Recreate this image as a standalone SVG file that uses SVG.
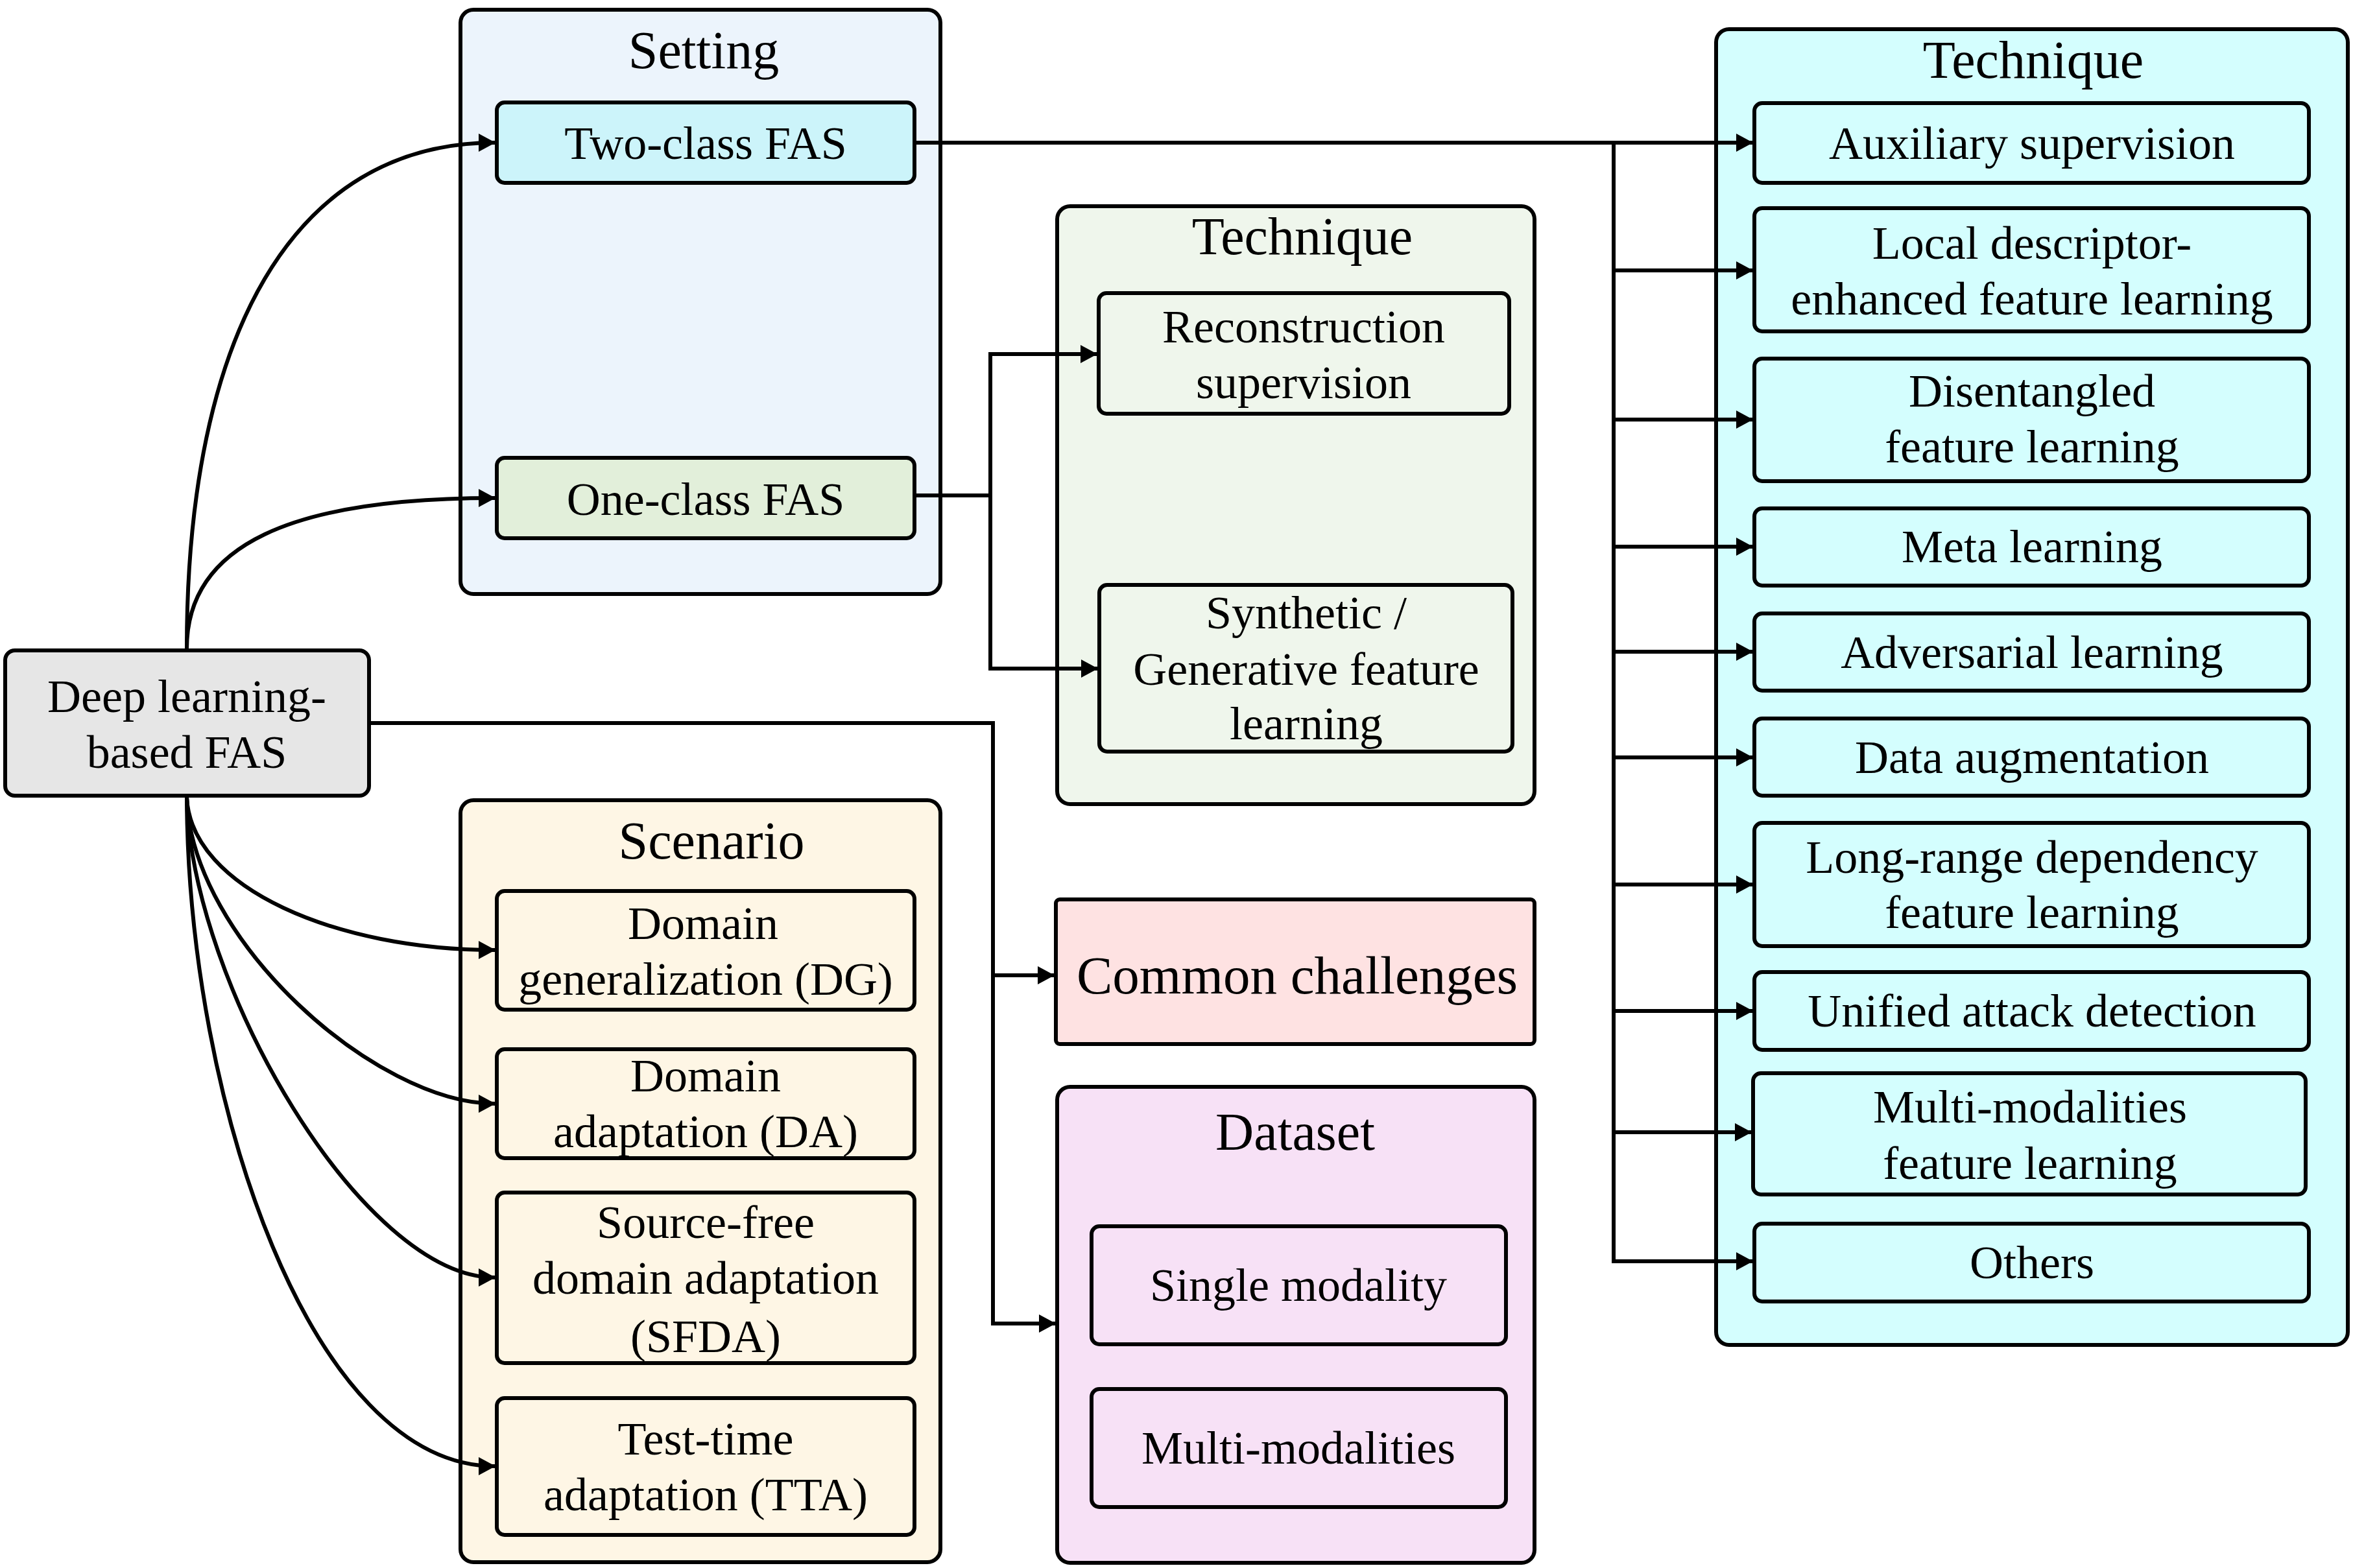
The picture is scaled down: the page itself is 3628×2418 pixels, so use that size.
<svg xmlns="http://www.w3.org/2000/svg" width="3628" height="2418" viewBox="0 0 3628 2418">
<style>
  text { font-family: "Liberation Serif", "Times New Roman", serif; fill: #000; text-anchor: middle; }
  .t { font-size: 72px; }
  .h { font-size: 82px; }
  .box { stroke: #000; stroke-width: 6; }
  .con { fill: none; stroke: #000; stroke-width: 6; }
</style>
<defs>
  <marker id="arr" markerUnits="userSpaceOnUse" markerWidth="26" markerHeight="28" refX="25" refY="14" orient="auto">
    <path d="M0,0 L26,14 L0,28 z" fill="#000"/>
  </marker>
</defs>
<rect width="3628" height="2418" fill="#fff"/>

<!-- containers -->
<g id="setting">
  <rect class="box" x="710" y="15" width="740" height="901" rx="20" fill="#ECF4FC"/>
  <text class="h" x="1085" y="105">Setting</text>
</g>
<g id="technique-oneclass">
  <rect class="box" x="1630" y="318" width="736" height="922" rx="20" fill="#EFF6EC"/>
  <text class="h" x="2008" y="392">Technique</text>
</g>
<g id="technique-main">
  <rect class="box" x="2646" y="45" width="974" height="2029" rx="20" fill="#D4FEFE"/>
  <text class="h" x="3135" y="120">Technique</text>
</g>
<g id="scenario">
  <rect class="box" x="710" y="1234" width="740" height="1175" rx="20" fill="#FEF6E5"/>
  <text class="h" x="1097" y="1324">Scenario</text>
</g>
<g id="dataset">
  <rect class="box" x="1630" y="1676" width="736" height="734" rx="20" fill="#F7E1F6"/>
  <text class="h" x="1997" y="1773">Dataset</text>
</g>

<!-- connectors -->
<g id="connectors">
  <path class="con" d="M288,1000 C288,520 450,220 763,220" marker-end="url(#arr)"/>
  <path class="con" d="M288,1000 C288,840 450,768 763,768" marker-end="url(#arr)"/>
  <path class="con" d="M288,1230 C295,1370 520,1465 763,1465" marker-end="url(#arr)"/>
  <path class="con" d="M288,1230 C295,1450 580,1702 763,1702" marker-end="url(#arr)"/>
  <path class="con" d="M288,1230 C295,1520 560,1970 763,1970" marker-end="url(#arr)"/>
  <path class="con" d="M288,1230 C290,1700 480,2261 763,2261" marker-end="url(#arr)"/>
  <!-- deep learning to challenges/dataset -->
  <path class="con" d="M572,1115 H1531 V2041 H1627" marker-end="url(#arr)"/>
  <path class="con" d="M1531,1504 H1625" marker-end="url(#arr)"/>
  <!-- one-class to techniques -->
  <path class="con" d="M1413,764 H1527 V546 H1691" marker-end="url(#arr)"/>
  <path class="con" d="M1527,764 V1031 H1692" marker-end="url(#arr)"/>
  <!-- two-class to techniques -->
  <path class="con" d="M1413,220 H2702" marker-end="url(#arr)"/>
  <path class="con" d="M2488,220 V1945 H2702" marker-end="url(#arr)"/>
  <path class="con" d="M2488,417 H2702" marker-end="url(#arr)"/>
  <path class="con" d="M2488,647 H2702" marker-end="url(#arr)"/>
  <path class="con" d="M2488,843 H2702" marker-end="url(#arr)"/>
  <path class="con" d="M2488,1005 H2702" marker-end="url(#arr)"/>
  <path class="con" d="M2488,1168 H2702" marker-end="url(#arr)"/>
  <path class="con" d="M2488,1364 H2702" marker-end="url(#arr)"/>
  <path class="con" d="M2488,1559 H2702" marker-end="url(#arr)"/>
  <path class="con" d="M2488,1746 H2700" marker-end="url(#arr)"/>
</g>

<!-- nodes -->
<g id="deep-learning">
  <rect class="box" x="8" y="1003" width="561" height="224" rx="15" fill="#E6E6E6"/>
  <text class="t" x="288" y="1098">Deep learning-</text>
  <text class="t" x="288" y="1184">based FAS</text>
</g>
<g id="two-class">
  <rect class="box" x="766" y="158" width="644" height="124" rx="12" fill="#CCF4FA"/>
  <text class="t" x="1088" y="245">Two-class FAS</text>
</g>
<g id="one-class">
  <rect class="box" x="766" y="706" width="644" height="124" rx="12" fill="#E2EFDA"/>
  <text class="t" x="1088" y="794">One-class FAS</text>
</g>
<g id="reconstruction">
  <rect class="box" x="1694" y="452" width="633" height="186" rx="12" fill="#EFF6EC"/>
  <text class="t" x="2010" y="528">Reconstruction</text>
  <text class="t" x="2010" y="614">supervision</text>
</g>
<g id="synthetic">
  <rect class="box" x="1695" y="902" width="637" height="257" rx="12" fill="#EFF6EC"/>
  <text class="t" x="2014" y="969">Synthetic /</text>
  <text class="t" x="2014" y="1056">Generative feature</text>
  <text class="t" x="2014" y="1140">learning</text>
</g>
<g id="common-challenges">
  <rect class="box" x="1628" y="1387" width="738" height="223" rx="6" fill="#FEE2E2"/>
  <text x="2000" y="1532" font-size="83">Common challenges</text>
</g>
<g id="single-modality">
  <rect class="box" x="1683" y="1891" width="639" height="182" rx="12" fill="#F7E1F6"/>
  <text class="t" x="2002" y="2006">Single modality</text>
</g>
<g id="multi-modalities">
  <rect class="box" x="1683" y="2142" width="639" height="182" rx="12" fill="#F7E1F6"/>
  <text class="t" x="2002" y="2257">Multi-modalities</text>
</g>
<g id="dg">
  <rect class="box" x="766" y="1374" width="644" height="183" rx="12" fill="#FEF6E5"/>
  <text class="t" x="1084" y="1448">Domain</text>
  <text class="t" x="1088" y="1534">generalization (DG)</text>
</g>
<g id="da">
  <rect class="box" x="766" y="1618" width="644" height="168" rx="12" fill="#FEF6E5"/>
  <text class="t" x="1088" y="1683">Domain</text>
  <text class="t" x="1088" y="1769">adaptation (DA)</text>
</g>
<g id="sfda">
  <rect class="box" x="766" y="1839" width="644" height="263" rx="12" fill="#FEF6E5"/>
  <text class="t" x="1088" y="1909">Source-free</text>
  <text class="t" x="1088" y="1995">domain adaptation</text>
  <text class="t" x="1088" y="2085">(SFDA)</text>
</g>
<g id="tta">
  <rect class="box" x="766" y="2156" width="644" height="211" rx="12" fill="#FEF6E5"/>
  <text class="t" x="1088" y="2243">Test-time</text>
  <text class="t" x="1088" y="2329">adaptation (TTA)</text>
</g>
<g id="auxiliary">
  <rect class="box" x="2705" y="159" width="855" height="123" rx="12" fill="#D4FEFE"/>
  <text class="t" x="3133" y="245">Auxiliary supervision</text>
</g>
<g id="local-descriptor">
  <rect class="box" x="2705" y="321" width="855" height="190" rx="12" fill="#D4FEFE"/>
  <text class="t" x="3133" y="399">Local descriptor-</text>
  <text class="t" x="3133" y="485">enhanced feature learning</text>
</g>
<g id="disentangled">
  <rect class="box" x="2705" y="553" width="855" height="189" rx="12" fill="#D4FEFE"/>
  <text class="t" x="3133" y="627">Disentangled</text>
  <text class="t" x="3133" y="713">feature learning</text>
</g>
<g id="meta">
  <rect class="box" x="2705" y="784" width="855" height="119" rx="12" fill="#D4FEFE"/>
  <text class="t" x="3133" y="867">Meta learning</text>
</g>
<g id="adversarial">
  <rect class="box" x="2705" y="946" width="855" height="119" rx="12" fill="#D4FEFE"/>
  <text class="t" x="3133" y="1030">Adversarial learning</text>
</g>
<g id="data-augmentation">
  <rect class="box" x="2705" y="1108" width="855" height="119" rx="12" fill="#D4FEFE"/>
  <text class="t" x="3133" y="1192">Data augmentation</text>
</g>
<g id="long-range">
  <rect class="box" x="2705" y="1269" width="855" height="190" rx="12" fill="#D4FEFE"/>
  <text class="t" x="3133" y="1346">Long-range dependency</text>
  <text class="t" x="3133" y="1431">feature learning</text>
</g>
<g id="unified">
  <rect class="box" x="2705" y="1499" width="855" height="120" rx="12" fill="#D4FEFE"/>
  <text class="t" x="3133" y="1583">Unified attack detection</text>
</g>
<g id="multi-modal-feature">
  <rect class="box" x="2703" y="1655" width="852" height="187" rx="12" fill="#D4FEFE"/>
  <text class="t" x="3130" y="1731">Multi-modalities</text>
  <text class="t" x="3130" y="1818">feature learning</text>
</g>
<g id="others">
  <rect class="box" x="2705" y="1887" width="855" height="120" rx="12" fill="#D4FEFE"/>
  <text class="t" x="3133" y="1971">Others</text>
</g>
</svg>
